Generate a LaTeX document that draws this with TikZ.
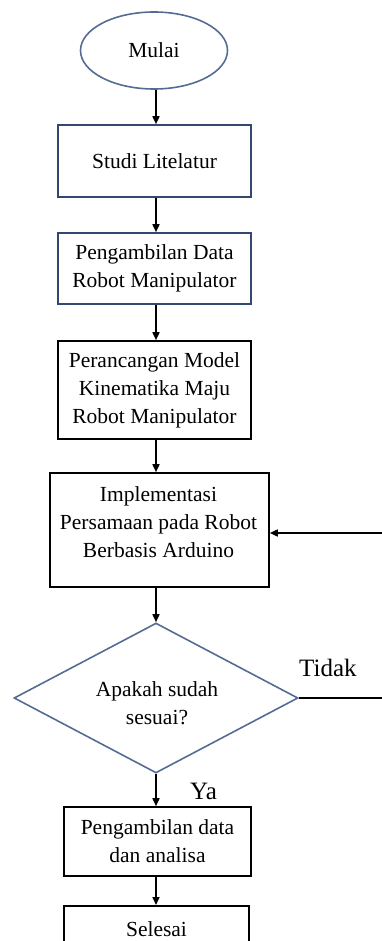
\documentclass[tikz,border=0pt]{standalone}
\usepackage{fontspec}
\setmainfont{Liberation Serif}
\usetikzlibrary{shapes.geometric,arrows.meta}
\definecolor{boxblue}{RGB}{50,72,112}
\definecolor{dblue}{RGB}{84,108,148}
\begin{document}
\begin{tikzpicture}[x=1pt,y=-1pt,
  proc/.style={draw=black,line width=1.6pt,align=center,inner sep=0pt,
    font=\fontsize{21.5}{28}\selectfont},
  bluebox/.style={proc,draw=boxblue},
  conn/.style={line width=1.6pt,-{Triangle[length=8pt,width=7pt]}},
  plain/.style={line width=1.6pt},
  txt/.style={font=\fontsize{21.5}{28}\selectfont,align=center,inner sep=0pt},
  lbl/.style={font=\fontsize{25}{30}\selectfont,inner sep=0pt}]
\useasboundingbox (0,0) rectangle (382,941);
\node[ellipse,draw=dblue,line width=1.6pt,minimum width=147pt,minimum height=77pt,
  inner sep=0pt,font=\fontsize{21.5}{28}\selectfont] (start) at (154,50.5) {Mulai};
\node[bluebox,minimum width=193pt,minimum height=72pt] (s1) at (154.5,161) {Studi Litelatur};
\node[bluebox,minimum width=193pt,minimum height=71pt] (s2) at (154.5,268.5) {Pengambilan Data\\Robot Manipulator};
\node[proc,minimum width=193pt,minimum height=98pt] (s3) at (154.5,390) {Perancangan Model\\Kinematika Maju\\Robot Manipulator};
\node[proc,minimum width=219pt,minimum height=114pt] (s4) at (159.5,530) {};
\node[txt] (s4t) at (158.5,522) {Implementasi\\Persamaan pada Robot\\Berbasis Arduino};
\node[diamond,draw=dblue,line width=1.6pt,minimum width=284pt,minimum height=150pt,
  inner sep=0pt,aspect=1.9] (dec) at (156,698) {};
\node[txt] (dect) at (157,703) {Apakah sudah\\sesuai?};
\node[proc,minimum width=187pt,minimum height=69pt] (s5) at (157.5,841.5) {Pengambilan data\\dan analisa};
\node[proc,minimum width=185pt,minimum height=72pt,anchor=north] (s6) at (156.5,905) {};
\node[txt] (s6t) at (156.5,929) {Selesai};
\coordinate (r1) at (382,533);
\coordinate (r2) at (382,698);
\draw[conn] (start.south -| 156,0) -- (s1.north -| 156,0);
\draw[conn] (s1.south -| 156,0) -- (s2.north -| 156,0);
\draw[conn] (s2.south -| 156,0) -- (s3.north -| 156,0);
\draw[conn] (s3.south -| 156,0) -- (s4.north -| 156,0);
\draw[conn] (s4.south -| 156,0) -- (dec.north);
\draw[conn] (dec.south) -- (s5.north -| 156,0);
\draw[conn] (s5.south -| 156,0) -- (s6.north -| 156,0);
\draw[conn] (r1) -- (s4.east |- r1);
\draw[plain] (dec.east) -- (r2);
\node[lbl,anchor=base west] (tidak) at (299,676) {Tidak};
\node[lbl,anchor=base west] (ya) at (190,799) {Ya};
\end{tikzpicture}
\end{document}
